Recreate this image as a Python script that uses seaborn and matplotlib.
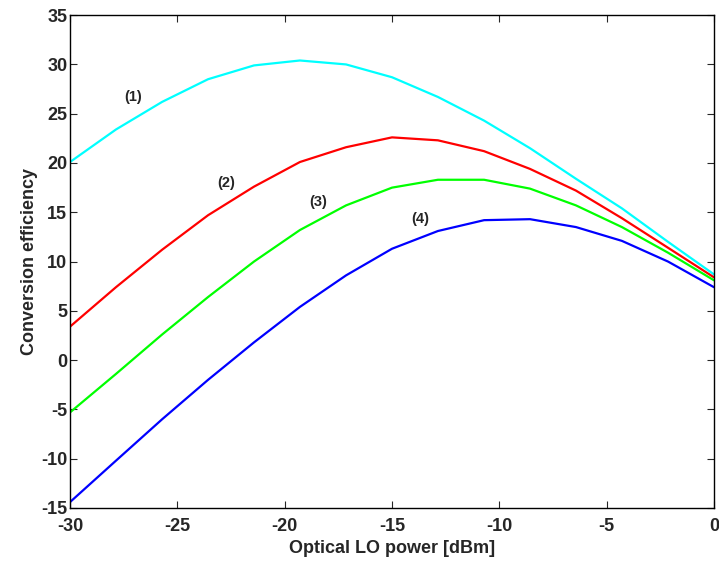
import numpy as np
import pandas as pd
import matplotlib
matplotlib.use('Agg')
import matplotlib.pyplot as plt
import seaborn as sns

# ========================================
# 데이터
# ========================================
lo_power = [-30.0, -27.86, -25.71, -23.57, -21.43, -19.29, -17.14, -15.0,
            -12.86, -10.71, -8.57, -6.43, -4.29, -2.14, 0.0]

curve1 = [20.1, 23.4, 26.2, 28.5, 29.9, 30.4, 30.0, 28.7, 26.7, 24.3, 21.5, 18.4, 15.4, 12.0, 8.7]
curve2 = [3.4, 7.4, 11.2, 14.7, 17.6, 20.1, 21.6, 22.6, 22.3, 21.2, 19.4, 17.2, 14.4, 11.4, 8.4]
curve3 = [-5.3, -1.4, 2.6, 6.4, 10.0, 13.2, 15.7, 17.5, 18.3, 18.3, 17.4, 15.7, 13.5, 10.9, 8.1]
curve4 = [-14.4, -10.2, -6.0, -2.0, 1.8, 5.4, 8.6, 11.3, 13.1, 14.2, 14.3, 13.5, 12.1, 10.0, 7.4]

series_names = ['(1)', '(2)', '(3)', '(4)']
series_colors = ['#00ffff', '#ff0000', '#00ff00', '#0000ff']

# 라벨 위치 (x, y)
label_x = [-27.07, -22.73, -18.45, -13.7]
label_y = [26.7, 18.0, 16.0, 14.3]

x_ticks = [-30, -25, -20, -15, -10, -5, 0]
y_ticks = [-15, -10, -5, 0, 5, 10, 15, 20, 25, 30, 35]

df = pd.DataFrame({
    'x': lo_power * 4,
    'y': curve1 + curve2 + curve3 + curve4,
    'curve': [n for n in series_names for _ in lo_power],
})

# ========================================
# 스타일
# ========================================
sns.set_style('ticks')
plt.rcParams['font.family'] = ['Liberation Sans Narrow', 'Liberation Sans', 'DejaVu Sans']
plt.rcParams['font.weight'] = 'bold'
plt.rcParams['axes.unicode_minus'] = False
plt.rcParams['xtick.direction'] = 'in'
plt.rcParams['ytick.direction'] = 'in'

fig = plt.figure(figsize=(7.19, 5.61), dpi=100)
ax = fig.add_axes([0.0974, 0.0945, 0.8956, 0.8785])

sns.lineplot(data=df, x='x', y='y', hue='curve',
             palette=dict(zip(series_names, series_colors)),
             linewidth=1.6, legend=False, ax=ax)

for name, lx, ly in zip(series_names, label_x, label_y):
    ax.text(lx, ly, name, fontsize=10.5, weight='bold', ha='center', va='center',
            family=['Liberation Sans', 'DejaVu Sans'])

ax.set_xlim(-30, 0)
ax.set_ylim(-15, 35)
ax.set_xticks(x_ticks)
ax.set_yticks(y_ticks)
ax.tick_params(axis='both', which='both', top=True, right=True, length=5,
               width=0.8, labelsize=13, pad=2)
ax.tick_params(axis='x', pad=7)
for lbl in ax.get_xticklabels() + ax.get_yticklabels():
    lbl.set_fontweight('bold')
for sp in ax.spines.values():
    sp.set_visible(True)
    sp.set_linewidth(1.0)
    sp.set_color('black')

ax.set_xlabel('Optical LO power [dBm]', fontsize=13, weight='bold', labelpad=4)
ax.set_ylabel('Conversion efficiency', fontsize=13, weight='bold', labelpad=2)

plt.savefig('out.png', dpi=100)
plt.close()
